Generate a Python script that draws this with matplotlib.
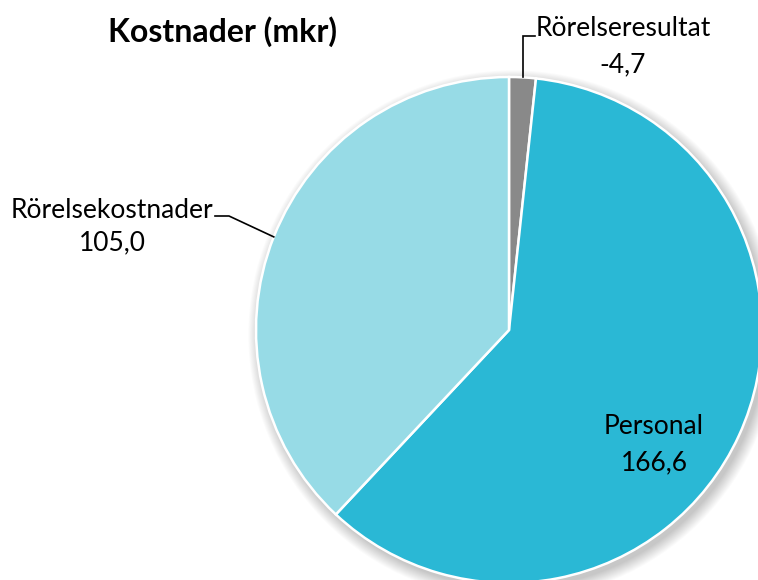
import matplotlib.pyplot as plt
from matplotlib.patches import Circle
import numpy as np

# ── Data ─────────────────────────────────────────────────────────────────────
labels = ["Rörelseresultat", "Personal", "Rörelsekostnader"]
values = [-4.7, 166.6, 105.0]
colours = ["#898989", "#2ab8d5", "#97dbe6"]
title = "Kostnader (mkr)"

plt.rcParams["font.family"] = ["Lato", "DejaVu Sans"]

W, H = 758, 580
fig = plt.figure(figsize=(W / 100, H / 100), dpi=100)
ax = fig.add_axes([0, 0, 1, 1])

cx, cy, R = 509, H - 330, 253

# soft drop shadow
for i in range(14):
    ax.add_patch(Circle((cx + 4, cy - 5), R + i * 0.9, color="black",
                        alpha=0.015, lw=0, zorder=0))

wedges, _ = ax.pie(
    np.abs(values), colors=colours, startangle=90, counterclock=False,
    center=(cx, cy), radius=R,
    wedgeprops=dict(edgecolor="white", linewidth=1.8, zorder=2),
)


def fmt(v):
    return f"{v:.1f}".replace(".", ",")


def edge_point(w):
    a = np.deg2rad((w.theta1 + w.theta2) / 2)
    return cx + R * np.cos(a), cy + R * np.sin(a)


fs = 19

# Rörelseresultat (top, leader up then right)
px, py = edge_point(wedges[0])
ax.plot([px, px, px + 12], [py, H - 36, H - 36], color="black", lw=1.2,
        zorder=3, solid_joinstyle="miter")
ax.text(623, H - 29, labels[0], ha="center", va="center", fontsize=fs)
ax.text(623, H - 65, fmt(values[0]), ha="center", va="center", fontsize=fs)

# Rörelsekostnader (left, leader horizontal then diagonal)
px, py = edge_point(wedges[2])
ax.plot([215, 229, px], [H - 216, H - 216, py], color="black", lw=1.2,
        zorder=3)
ax.text(112, H - 210, labels[2], ha="center", va="center", fontsize=fs)
ax.text(112, H - 243, fmt(values[2]), ha="center", va="center", fontsize=fs)

# Personal (inside)
ax.text(654, H - 427, labels[1], ha="center", va="center", fontsize=fs)
ax.text(654, H - 463, fmt(values[1]), ha="center", va="center", fontsize=fs)

ax.text(222, H - 32, title, ha="center", va="center", fontsize=23,
        fontweight="bold")

ax.set_xlim(0, W)
ax.set_ylim(0, H)
ax.set_aspect("equal")
ax.axis("off")

fig.savefig("out.png", dpi=100)
